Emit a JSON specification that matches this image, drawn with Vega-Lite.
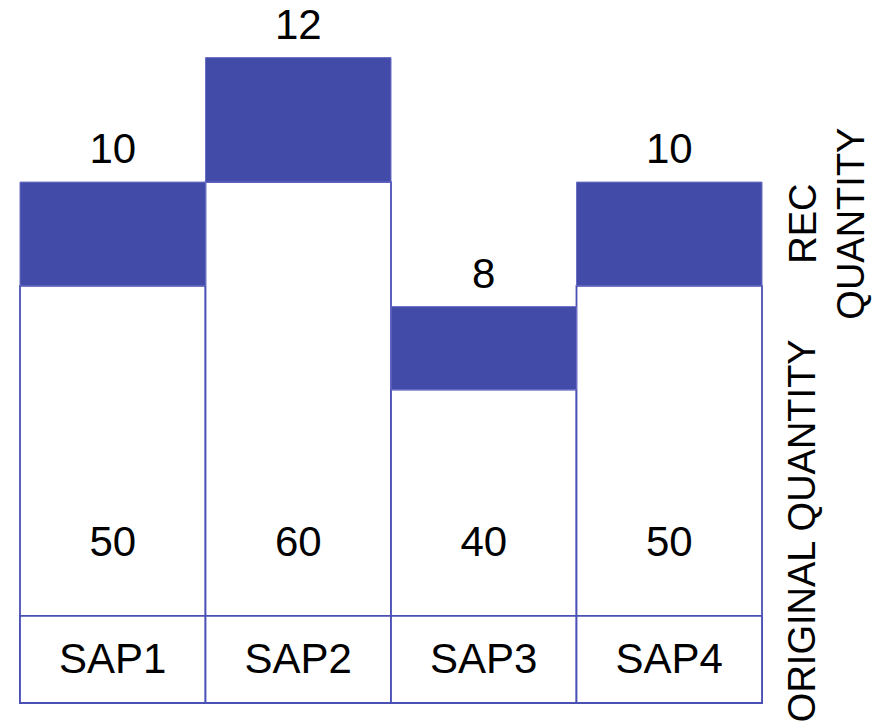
{
  "$schema": "https://vega.github.io/schema/vega-lite/v6.json",
  "width": 742,
  "height": 703,
  "autosize": {"type": "none"},
  "padding": {"left": 20, "top": 0, "right": 117, "bottom": 23},
  "background": "white",
  "config": {
    "view": {"stroke": null},
    "text": {"font": "Liberation Sans", "color": "black"}
  },
  "data": {
    "values": [
      {"sap": "SAP1", "original": 50, "rec": 10},
      {"sap": "SAP2", "original": 60, "rec": 12},
      {"sap": "SAP3", "original": 40, "rec": 8},
      {"sap": "SAP4", "original": 50, "rec": 10}
    ]
  },
  "transform": [
    {"fold": ["original", "rec"], "as": ["key", "qty"]},
    {
      "stack": "qty",
      "groupby": ["sap"],
      "sort": [{"field": "key", "order": "ascending"}],
      "as": ["q0", "q1"]
    }
  ],
  "encoding": {
    "x": {
      "field": "sap",
      "type": "nominal",
      "scale": {"paddingInner": 0, "paddingOuter": 0},
      "axis": null
    },
    "y": {
      "field": "q1",
      "type": "quantitative",
      "scale": {"domain": [9.8, 77.55], "clamp": true, "nice": false, "zero": false},
      "axis": null
    }
  },
  "layer": [
    {
      "transform": [{"filter": "datum.key === 'original'"}],
      "mark": {"type": "bar", "fill": "white", "stroke": "#4A50B4", "strokeWidth": 1.8},
      "encoding": {"y2": {"field": "q0"}}
    },
    {
      "transform": [{"filter": "datum.key === 'rec'"}],
      "mark": {"type": "bar", "fill": "#434BA9", "stroke": "#6A6FC4", "strokeWidth": 1},
      "encoding": {"y2": {"field": "q0"}}
    },
    {
      "transform": [{"filter": "datum.key === 'original'"}],
      "mark": {"type": "rect", "fill": "white", "stroke": "#4A50B4", "strokeWidth": 1.8},
      "encoding": {"y": {"datum": 18.2}, "y2": {"datum": 9.8}}
    },
    {
      "transform": [{"filter": "datum.key === 'original'"}],
      "mark": {"type": "text", "fontSize": 42, "baseline": "middle"},
      "encoding": {"y": {"datum": 13.9}, "text": {"field": "sap"}}
    },
    {
      "transform": [{"filter": "datum.key === 'original'"}],
      "mark": {"type": "text", "fontSize": 42, "baseline": "middle"},
      "encoding": {"y": {"datum": 25.2}, "text": {"field": "qty"}}
    },
    {
      "transform": [{"filter": "datum.key === 'rec'"}],
      "mark": {"type": "text", "fontSize": 42, "baseline": "middle", "dy": -32},
      "encoding": {"text": {"field": "qty"}}
    },
    {
      "transform": [{"filter": "datum.key === 'rec' && datum.sap === 'SAP4'"}],
      "mark": {
        "type": "text",
        "text": ["REC", "QUANTITY"],
        "fontSize": 38,
        "angle": 270,
        "align": "center",
        "baseline": "middle",
        "lineHeight": 48,
        "dy": 136
      },
      "encoding": {"y": {"datum": 56.0}}
    },
    {
      "transform": [{"filter": "datum.key === 'original' && datum.sap === 'SAP4'"}],
      "mark": {
        "type": "text",
        "text": "ORIGINAL QUANTITY",
        "fontSize": 38,
        "angle": 270,
        "align": "center",
        "baseline": "middle",
        "dy": 135
      },
      "encoding": {"y": {"datum": 26.4}}
    }
  ]
}
